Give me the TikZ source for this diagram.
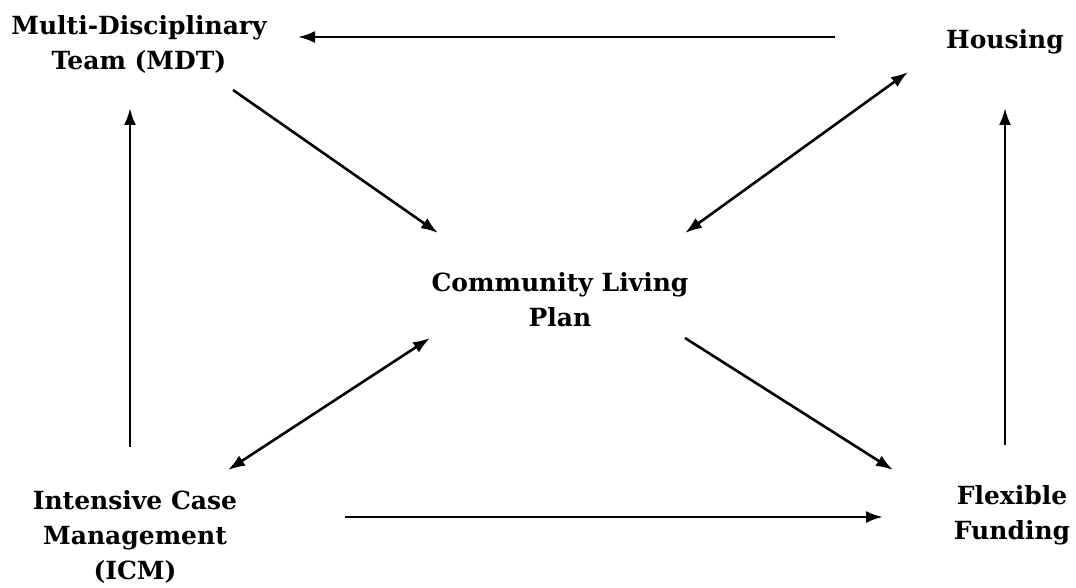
\documentclass[tikz,border=0pt]{standalone}
\usepackage{fontspec}
\setmainfont{DejaVu Serif}
\usetikzlibrary{arrows.meta}
\begin{document}
\begin{tikzpicture}[x=1pt,y=-1pt,
  lbl/.style={font=\bfseries\fontsize{25}{35}\selectfont, align=center, inner sep=0pt},
  tip/.style={Latex[length=17pt,width=12pt]},
  conn/.style={line width=2.6pt, -{Latex[length=17pt,width=12pt]}},
  both/.style={line width=2.6pt, {Latex[length=17pt,width=12pt]}-{Latex[length=17pt,width=12pt]}}]
\useasboundingbox (0,0) rectangle (1076,588);
\node[lbl] (mdt) at (139,44) {Multi-Disciplinary\\Team (MDT)};
\node[lbl] (hous) at (1005,42) {Housing};
\node[lbl] (clp) at (560,300) {Community Living\\Plan};
\node[lbl] (icm) at (135,537) {Intensive Case\\Management\\(ICM)};
\node[lbl] (ff) at (1012,515) {Flexible\\Funding};
\draw[conn] ([shift={(-170,-5)}]hous.center) -- ([shift={(159,-7)}]mdt.center);
\draw[conn] ([shift={(94,46)}]mdt.center) -- ([shift={(-122,-67)}]clp.center);
\draw[both] ([shift={(-97,30)}]hous.center) -- ([shift={(125,-67)}]clp.center);
\draw[conn] ([shift={(-5,-90)}]icm.center) -- ([shift={(-9,64)}]mdt.center);
\draw[both] ([shift={(93,-67)}]icm.center) -- ([shift={(-130,38)}]clp.center);
\draw[conn] ([shift={(125,38)}]clp.center) -- ([shift={(-119,-45)}]ff.center);
\draw[conn] ([shift={(210,-20)}]icm.center) -- ([shift={(-129,2)}]ff.center);
\draw[conn] ([shift={(-7,-70)}]ff.center) -- ([shift={(0,66)}]hous.center);
\end{tikzpicture}
\end{document}
